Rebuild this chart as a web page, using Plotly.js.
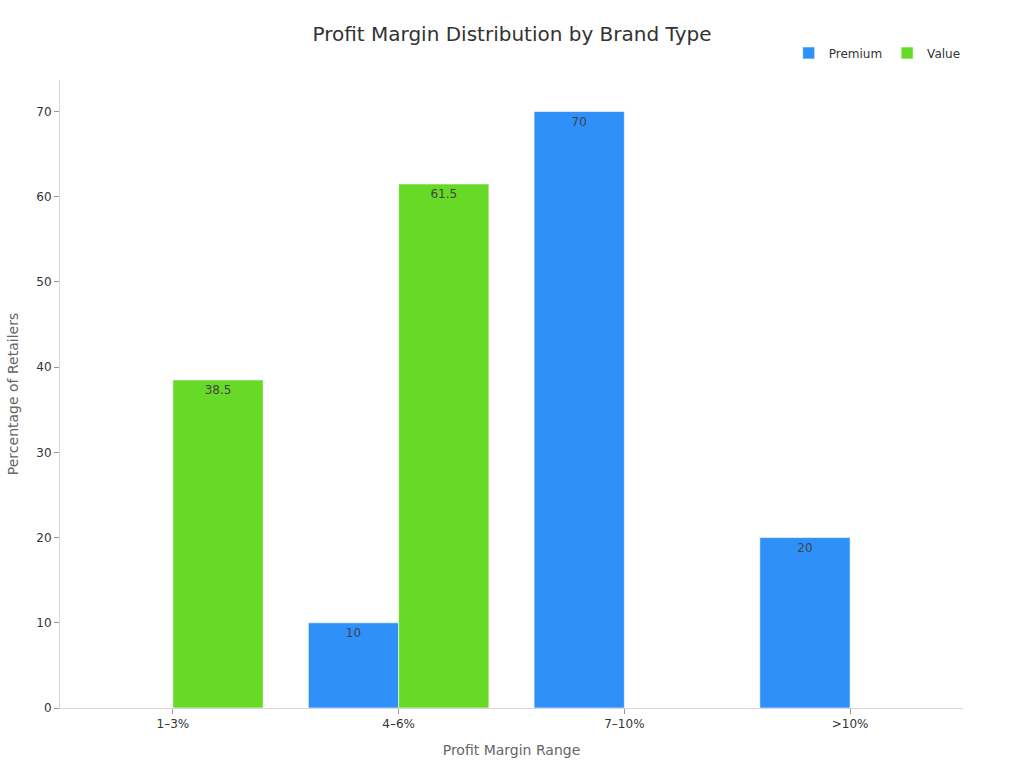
<!DOCTYPE html>
<html>
<head>
<meta charset="utf-8">
<script src="https://cdn.plot.ly/plotly-3.0.1.min.js"></script>
<style>
  html, body { margin: 0; padding: 0; background: #fff; }
  #chart { width: 1024px; height: 768px; }
</style>
</head>
<body>
<div id="chart"></div>
<script>
var categories = ['1–3%', '4–6%', '7–10%', '>10%'];
var premiumValues = [null, 10, 70, 20];
var valueValues = [38.5, 61.5, null, null];
var seriesNames = ['Premium', 'Value'];
var yTicks = [0, 10, 20, 30, 40, 50, 60, 70];

function labels(vals) {
  return vals.map(function (v) { return v == null ? '' : String(v); });
}

var premium = {
  x: categories,
  y: premiumValues,
  name: seriesNames[0],
  type: 'bar',
  text: labels(premiumValues),
  textposition: 'inside',
  insidetextanchor: 'end',
  textfont: { color: '#444', size: 12 },
  marker: { color: '#2e90f8', line: { color: 'rgba(255,255,255,0.6)', width: 1 } },
  hoverinfo: 'x+y+name'
};

var value = {
  x: categories,
  y: valueValues,
  name: seriesNames[1],
  type: 'bar',
  text: labels(valueValues),
  textposition: 'inside',
  insidetextanchor: 'end',
  textfont: { color: '#444', size: 12 },
  marker: { color: '#66da26', line: { color: 'rgba(255,255,255,0.6)', width: 1 } },
  hoverinfo: 'x+y+name'
};

var layout = {
  width: 1024,
  height: 768,
  font: { family: 'DejaVu Sans, sans-serif', color: '#333', size: 12 },
  paper_bgcolor: '#fff',
  plot_bgcolor: '#fff',
  margin: { l: 60, r: 61, t: 80, b: 60 },
  title: {
    text: 'Profit Margin Distribution by Brand Type',
    font: { size: 20, color: '#333' },
    x: 0.5,
    xanchor: 'center',
    y: 0.956,
    yanchor: 'middle'
  },
  barmode: 'group',
  bargap: 0.2,
  bargroupgap: 0,
  showlegend: true,
  legend: {
    orientation: 'h',
    x: 1.003,
    xanchor: 'right',
    y: 1.02,
    yanchor: 'bottom',
    font: { size: 12, color: '#333' }
  },
  xaxis: {
    title: { text: 'Profit Margin Range', font: { size: 14, color: '#666' }, standoff: 14 },
    showline: true,
    linecolor: '#d6d6d6',
    linewidth: 1,
    ticks: 'outside',
    tickcolor: '#999',
    ticklen: 5,
    showgrid: false,
    zeroline: false
  },
  yaxis: {
    title: { text: 'Percentage of Retailers', font: { size: 14, color: '#666' }, standoff: 14 },
    range: [0, 73.7],
    tickvals: yTicks,
    showline: true,
    linecolor: '#d6d6d6',
    linewidth: 1,
    ticks: 'outside',
    tickcolor: '#999',
    ticklen: 5,
    showgrid: false,
    zeroline: false
  }
};

Plotly.newPlot('chart', [premium, value], layout, { displayModeBar: false, responsive: false });
</script>
</body>
</html>
